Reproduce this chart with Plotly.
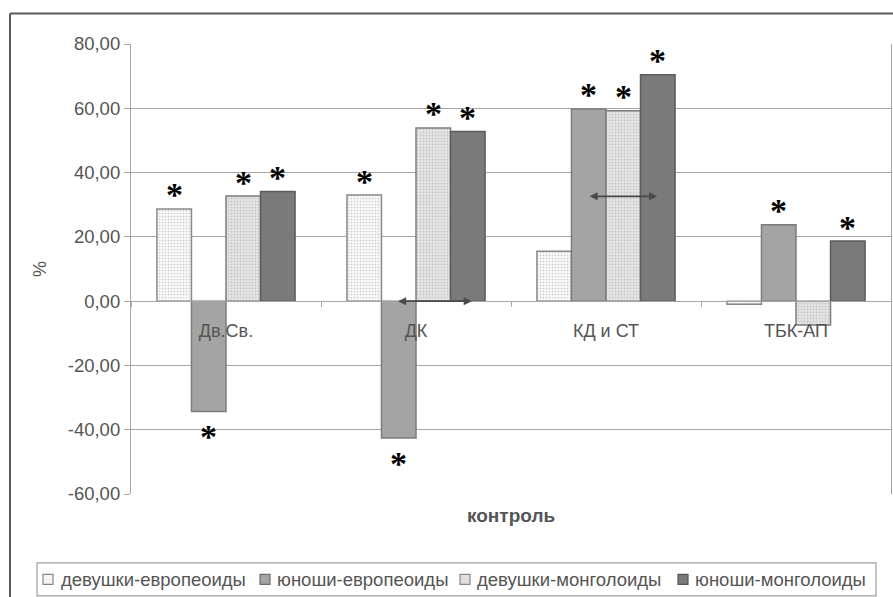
import plotly.graph_objects as go

# Categories and series (percent deviation from control)
categories = ["Дв.Св.", "ДК", "КД и СТ", "ТБК-АП"]
series_names = ["девушки-европеоиды", "юноши-европеоиды",
                "девушки-монголоиды", "юноши-монголоиды"]
girls_eur = [28.7, 33.0, 15.5, -1.0]
boys_eur = [-34.3, -42.6, 59.8, 23.8]
girls_mon = [32.7, 53.9, 59.2, -7.4]
boys_mon = [34.1, 52.8, 70.4, 18.7]

# significance marks (*) per series
sig_girls_eur = [1, 1, 0, 0]
sig_boys_eur = [1, 1, 1, 1]
sig_girls_mon = [1, 1, 1, 0]
sig_boys_mon = [1, 1, 1, 1]

y_tickvals = [-60, -40, -20, 0, 20, 40, 60, 80]
y_ticktext = ["-60,00", "-40,00", "-20,00", "0,00", "20,00", "40,00", "60,00", "80,00"]

# double-headed comparison arrows: (x_start, x_end, y) in category units
arrows = [(0.898, 1.293, 0.0), (1.906, 2.269, 32.6)]

W_PX, H_PX = 893, 597
L, R, T, B = 131, 2, 43.5, 103
plot_w = W_PX - L - R
plot_h = H_PX - T - B
BARGAP = 0.273
Y_MIN, Y_MAX = -60, 80

FONT = "Liberation Sans, Arial, sans-serif"
GRID = "#a6a6a6"
TXT = "#555555"


def px_x(px):
    return (px - L) / plot_w


def px_y(py):
    return (T + plot_h - py) / plot_h


styles = [
    dict(color="#f8f8f8", pattern=dict(shape=".", fgcolor="#a0a0a0", bgcolor="#f8f8f8", size=3, solidity=0.25),
         line=dict(color="#8a8a8a", width=1.5)),
    dict(color="#a4a4a4", line=dict(color="#7c7c7c", width=1.5)),
    dict(color="#e2e2e2", pattern=dict(shape=".", fgcolor="#a8a8a8", bgcolor="#e6e6e6", size=3, solidity=0.35),
         line=dict(color="#7c7c7c", width=1.5)),
    dict(color="#7a7a7a", line=dict(color="#5c5c5c", width=1.5)),
]
legend_swatch = [("#f4f4f4", "#888888"), ("#a4a4a4", "#6e6e6e"),
                 ("#e0e0e0", "#888888"), ("#7a7a7a", "#555555")]

all_values = [girls_eur, boys_eur, girls_mon, boys_mon]
all_sig = [sig_girls_eur, sig_boys_eur, sig_girls_mon, sig_boys_mon]

fig = go.Figure()
for name, vals, st in zip(series_names, all_values, styles):
    fig.add_trace(go.Bar(x=categories, y=vals, name=name, marker=st, showlegend=False))

annotations = []
# asterisks above (or below) significant bars
bar_w = (1 - BARGAP) / len(series_names)
for si, (vals, sig) in enumerate(zip(all_values, all_sig)):
    for ci, (v, s) in enumerate(zip(vals, sig)):
        if not s:
            continue
        annotations.append(dict(
            x=ci + (si - 1.5) * bar_w, y=v, xref="x", yref="y",
            text="<b>*</b>", showarrow=False,
            yshift=14 if v >= 0 else -25,
            font=dict(family="Liberation Serif, Times New Roman, serif", size=34, color="black"),
        ))

for x0, x1, yv in arrows:
    annotations.append(dict(
        x=x1, y=yv, ax=x0, ay=yv, xref="x", yref="y", axref="x", ayref="y",
        text="", showarrow=True, arrowhead=2, arrowside="end+start",
        arrowsize=1, arrowwidth=1.6, arrowcolor="#4a4a4a", standoff=0, startstandoff=0,
    ))

# x-axis title
annotations.append(dict(
    x=px_x(511), y=px_y(528), xref="paper", yref="paper",
    text="<b>контроль</b>", showarrow=False, font=dict(family=FONT, size=19, color=TXT),
))

# outer chart frame (top and left edges)
shapes = [
    dict(type="line", xref="paper", yref="paper", x0=px_x(10), x1=1.2, y0=px_y(13), y1=px_y(13),
         line=dict(color="#5a5a5a", width=2)),
    dict(type="line", xref="paper", yref="paper", x0=px_x(10), x1=px_x(10), y0=px_y(13), y1=-0.4,
         line=dict(color="#5a5a5a", width=2)),
]

# legend box with swatches and labels
shapes.append(dict(type="rect", xref="paper", yref="paper",
                   x0=px_x(37), x1=px_x(876), y0=px_y(563), y1=px_y(596),
                   line=dict(color="#a0a0a0", width=1.2), fillcolor="white"))
swatch_left = [43, 260, 460, 678]
label_left = [59, 275, 475, 693]
for name, (fc, lc), sx, tx in zip(series_names, legend_swatch, swatch_left, label_left):
    shapes.append(dict(type="rect", xref="paper", yref="paper",
                       x0=px_x(sx), x1=px_x(sx + 10), y0=px_y(584.5), y1=px_y(574.5),
                       line=dict(color=lc, width=1.2), fillcolor=fc))
    annotations.append(dict(x=px_x(tx), y=px_y(579.5), xref="paper", yref="paper",
                            xanchor="left", yanchor="middle", showarrow=False, text=name,
                            font=dict(family=FONT, size=18.5, color=TXT)))

zero_pos = (0 - Y_MIN) / (Y_MAX - Y_MIN)

fig.update_layout(
    width=W_PX, height=H_PX,
    margin=dict(l=L, r=R, t=T, b=B),
    paper_bgcolor="white", plot_bgcolor="white",
    barmode="group", bargap=BARGAP, bargroupgap=0,
    font=dict(family=FONT, size=18, color=TXT),
    xaxis=dict(
        type="category", anchor="free", position=zero_pos,
        showline=True, linecolor=GRID, linewidth=1.2,
        ticks="outside", tickson="boundaries", ticklen=5, tickcolor=GRID,
        showgrid=False, ticklabelstandoff=13,
        tickfont=dict(family=FONT, size=18, color=TXT),
    ),
    yaxis=dict(
        range=[Y_MIN, Y_MAX], tickvals=y_tickvals, ticktext=y_ticktext,
        showgrid=True, gridcolor=GRID, gridwidth=1.2,
        showline=True, mirror=True, linecolor=GRID, linewidth=1.2,
        ticks="outside", ticklen=6, tickcolor=GRID,
        zeroline=False,
        tickfont=dict(family=FONT, size=18.5, color=TXT),
        title=dict(text="%", standoff=16, font=dict(family=FONT, size=18, color=TXT)),
    ),
    annotations=annotations,
    shapes=shapes,
    showlegend=False,
)

fig.write_html("out.html")
